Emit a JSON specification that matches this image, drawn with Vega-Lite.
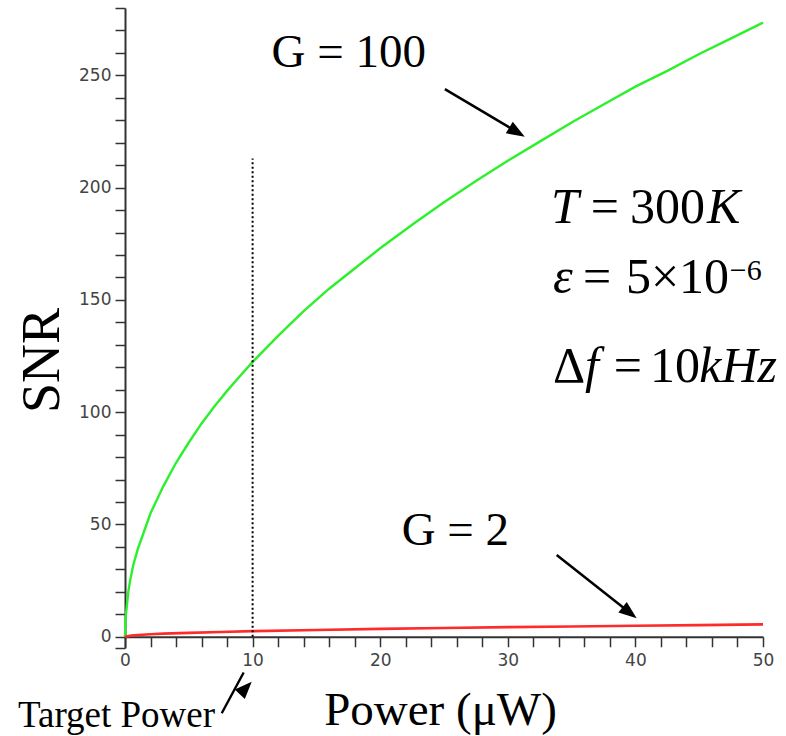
{
  "$schema": "https://vega.github.io/schema/vega-lite/v6.json",
  "width": 638,
  "height": 640,
  "autosize": {"type": "none"},
  "padding": {"left": 125, "top": 8, "right": 23, "bottom": 88},
  "background": "white",
  "config": {"view": {"stroke": null}, "axis": {"grid": false}},
  "datasets": {
    "green": [
      {"x": 0, "y": 0}, {"x": 0.05, "y": 9}, {"x": 0.13, "y": 13}, {"x": 0.26, "y": 20}, {"x": 0.4, "y": 25},
      {"x": 0.65, "y": 32}, {"x": 1, "y": 39}, {"x": 1.5, "y": 47}, {"x": 2, "y": 55}, {"x": 2.5, "y": 61},
      {"x": 3, "y": 67}, {"x": 4, "y": 77.5}, {"x": 5, "y": 86.5}, {"x": 6, "y": 95}, {"x": 7, "y": 102.5},
      {"x": 8, "y": 109.5}, {"x": 9, "y": 116}, {"x": 10, "y": 122.4}, {"x": 12, "y": 134}, {"x": 14, "y": 145},
      {"x": 16, "y": 155}, {"x": 18, "y": 164}, {"x": 20, "y": 173}, {"x": 22.5, "y": 183.5}, {"x": 25, "y": 193.5},
      {"x": 27.5, "y": 203}, {"x": 30, "y": 212}, {"x": 32.5, "y": 220.5}, {"x": 35, "y": 229}, {"x": 37.5, "y": 237},
      {"x": 40, "y": 245}, {"x": 42.5, "y": 252}, {"x": 45, "y": 259.5}, {"x": 47.5, "y": 266.5}, {"x": 50, "y": 273.5}
    ],
    "red": [
      {"x": 0, "y": 0}, {"x": 0.5, "y": 0.6}, {"x": 1, "y": 0.8}, {"x": 2, "y": 1.1}, {"x": 3, "y": 1.4},
      {"x": 5, "y": 1.75}, {"x": 7.5, "y": 2.15}, {"x": 10, "y": 2.5}, {"x": 15, "y": 3.0}, {"x": 20, "y": 3.5},
      {"x": 25, "y": 3.9}, {"x": 30, "y": 4.3}, {"x": 35, "y": 4.6}, {"x": 40, "y": 4.9}, {"x": 45, "y": 5.2}, {"x": 50, "y": 5.5}
    ],
    "target": [{"x": 10, "y": 0, "y2": 213}],
    "arrowsBig": [
      {"x": 25.07, "y": 243.9, "x2": 30.66, "y2": 225.0},
      {"x": 33.83, "y": 36.41, "x2": 39.49, "y2": 11.0}
    ],
    "arrowSmall": [{"x": 7.58, "y": -34.08, "x2": 9.3, "y2": -15.9}],
    "head1": [{"x": 31.33, "y": 222.7}],
    "head2": [{"x": 40.10, "y": 8.2}],
    "head3": [{"x": 9.93, "y": -20.0}],
    "gLabels": [
      {"x": 11.49, "y": 253.7, "text": "G = 100"},
      {"x": 21.68, "y": 40.9, "text": "G = 2"}
    ],
    "targetLabel": [{"x": -8.39, "y": -40.2, "text": "Target Power"}],
    "mathUpright": [
      {"x": 36.5, "y": 184.26, "text": "="},
      {"x": 39.58, "y": 184.26, "text": "300"},
      {"x": 35.9, "y": 153.09, "text": "="},
      {"x": 39.26, "y": 153.09, "text": "5"},
      {"x": 41.22, "y": 153.09, "text": "×"},
      {"x": 43.42, "y": 153.09, "text": "10"},
      {"x": 33.54, "y": 113.46, "text": "Δ"},
      {"x": 38.3, "y": 113.46, "text": "="},
      {"x": 41.15, "y": 113.46, "text": "10"}
    ],
    "mathItalic": [
      {"x": 33.39, "y": 184.26, "text": "T"},
      {"x": 45.61, "y": 184.26, "text": "K"},
      {"x": 33.54, "y": 153.09, "text": "ε"},
      {"x": 36.05, "y": 113.46, "text": "f"},
      {"x": 45.0, "y": 113.46, "text": "kHz"}
    ],
    "mathSup": [{"x": 47.4, "y": 159.0, "text": "−6"}]
  },
  "encoding": {
    "x": {
      "field": "x", "type": "quantitative",
      "scale": {"domain": [0, 50], "nice": false, "zero": false},
      "axis": {
        "orient": "bottom", "offset": -11.23,
        "values": [0, 2, 4, 6, 8, 10, 12, 14, 16, 18, 20, 22, 24, 26, 28, 30, 32, 34, 36, 38, 40, 42, 44, 46, 48, 50],
        "labelExpr": "datum.value % 10 == 0 ? datum.label : ''",
        "labelOverlap": false, "labelFlush": false,
        "tickSize": 10, "tickWidth": 1.5, "tickColor": "#333",
        "domainColor": "#333", "domainWidth": 2,
        "labelFont": "DejaVu Sans", "labelFontSize": 17, "labelColor": "#444", "labelPadding": 6,
        "title": "Power (μW)", "titleFont": "Liberation Serif", "titleFontSize": 47, "titleFontWeight": "normal",
        "titleColor": "black", "titleX": 315, "titleY": 88, "titleBaseline": "alphabetic", "titleAlign": "center"
      }
    },
    "y": {
      "field": "y", "type": "quantitative",
      "scale": {"domain": [-5, 280], "nice": false, "zero": false},
      "axis": {
        "orient": "left",
        "values": [-5, 0, 10, 20, 30, 40, 50, 60, 70, 80, 90, 100, 110, 120, 130, 140, 150, 160, 170, 180, 190, 200, 210, 220, 230, 240, 250, 260, 270, 280],
        "labelExpr": "datum.value >= 0 && datum.value % 50 == 0 ? datum.label : ''",
        "labelOverlap": false, "labelFlush": false,
        "tickSize": 10, "tickWidth": 1.5, "tickColor": "#333",
        "domainColor": "#333", "domainWidth": 2,
        "labelFont": "DejaVu Sans", "labelFontSize": 17, "labelColor": "#444", "labelPadding": 4,
        "title": "SNR", "titleFont": "Liberation Serif", "titleFontSize": 54, "titleFontWeight": "normal",
        "titleColor": "black", "titleX": -67, "titleY": 352, "titleAngle": 270,
        "titleBaseline": "alphabetic", "titleAlign": "center"
      }
    }
  },
  "layer": [
    {
      "data": {"name": "green"},
      "mark": {"type": "line", "color": "#2cf02c", "strokeWidth": 2.4}
    },
    {
      "data": {"name": "red"},
      "mark": {"type": "line", "color": "#ff2a2a", "strokeWidth": 2.6}
    },
    {
      "data": {"name": "target"},
      "mark": {"type": "rule", "color": "black", "strokeWidth": 2, "strokeDash": [2, 2.5]},
      "encoding": {"y2": {"field": "y2"}}
    },
    {
      "data": {"name": "arrowsBig"},
      "mark": {"type": "rule", "color": "black", "strokeWidth": 2.5},
      "encoding": {"x2": {"field": "x2"}, "y2": {"field": "y2"}}
    },
    {
      "data": {"name": "arrowSmall"},
      "mark": {"type": "rule", "color": "black", "strokeWidth": 2.4},
      "encoding": {"x2": {"field": "x2"}, "y2": {"field": "y2"}}
    },
    {
      "data": {"name": "head1"},
      "mark": {"type": "point", "shape": "M0,0L-2,-0.75L-2,0.75Z", "filled": true, "color": "black", "opacity": 1, "size": 324, "angle": 30.8}
    },
    {
      "data": {"name": "head2"},
      "mark": {"type": "point", "shape": "M0,0L-2,-0.75L-2,0.75Z", "filled": true, "color": "black", "opacity": 1, "size": 324, "angle": 38.35}
    },
    {
      "data": {"name": "head3"},
      "mark": {"type": "point", "shape": "M0,0L-2,-0.8L-2,0.8Z", "filled": true, "color": "black", "opacity": 1, "size": 300, "angle": 313.5}
    },
    {
      "data": {"name": "gLabels"},
      "mark": {"type": "text", "font": "Liberation Serif", "fontSize": 47, "align": "left", "baseline": "alphabetic", "color": "black"},
      "encoding": {"text": {"field": "text"}}
    },
    {
      "data": {"name": "targetLabel"},
      "mark": {"type": "text", "font": "Liberation Serif", "fontSize": 37, "align": "left", "baseline": "alphabetic", "color": "black"},
      "encoding": {"text": {"field": "text"}}
    },
    {
      "data": {"name": "mathUpright"},
      "mark": {"type": "text", "font": "Liberation Serif", "fontSize": 50, "align": "left", "baseline": "alphabetic", "color": "black"},
      "encoding": {"text": {"field": "text"}}
    },
    {
      "data": {"name": "mathItalic"},
      "mark": {"type": "text", "font": "Liberation Serif", "fontSize": 50, "fontStyle": "italic", "align": "left", "baseline": "alphabetic", "color": "black"},
      "encoding": {"text": {"field": "text"}}
    },
    {
      "data": {"name": "mathSup"},
      "mark": {"type": "text", "font": "Liberation Serif", "fontSize": 30, "align": "left", "baseline": "alphabetic", "color": "black"},
      "encoding": {"text": {"field": "text"}}
    }
  ]
}
